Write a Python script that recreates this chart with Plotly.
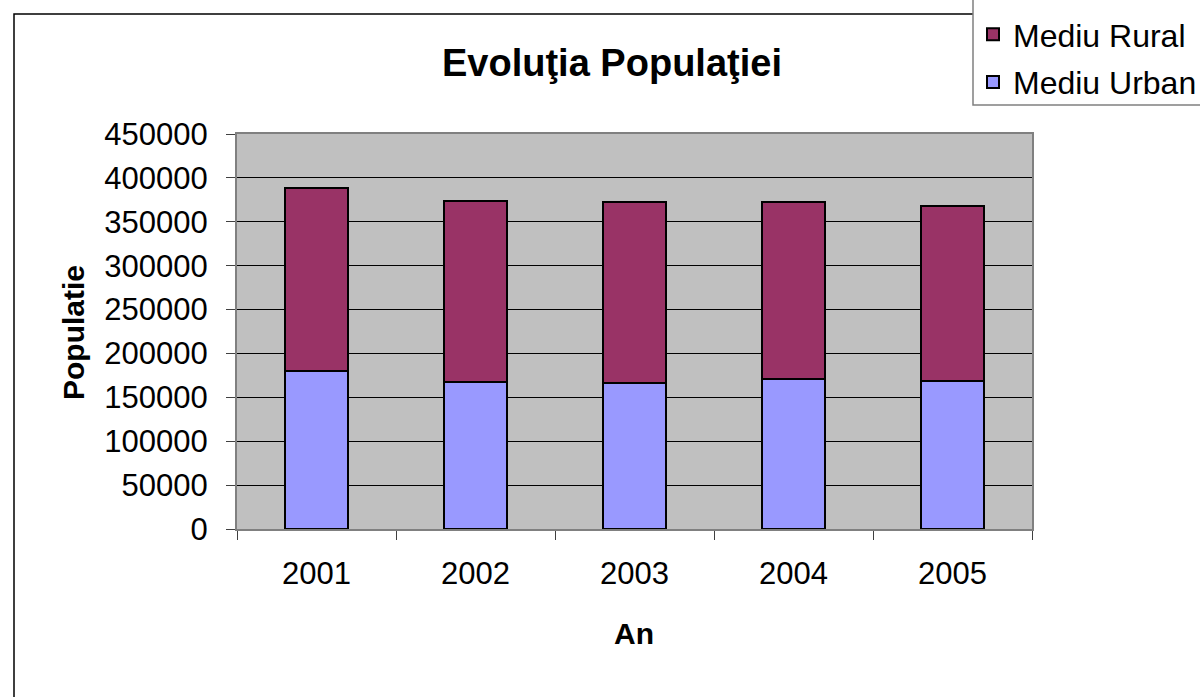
import plotly.graph_objects as go

# Population by year and environment
years = ["2001", "2002", "2003", "2004", "2005"]
urban = [180000, 167000, 166000, 171000, 169000]
rural = [209000, 207000, 207000, 201000, 199000]

FONT = "Liberation Sans, Arial, sans-serif"
W, H = 1200, 697
L, R, T, B = 237, 168, 134, 168
pw, ph = W - L - R, H - T - B


def px_x(px):
    return (px - L) / pw


def px_y(py):
    return (H - B - py) / ph


fig = go.Figure()
fig.add_trace(go.Bar(
    x=years, y=urban, name="Mediu Urban", legendrank=2, legendgroup="u",
    marker=dict(color="#9999FF", line=dict(color="black", width=2)),
))
fig.add_trace(go.Bar(
    x=years, y=rural, name="Mediu Rural", legendrank=1, legendgroup="r",
    marker=dict(color="#993366", line=dict(color="black", width=2)),
))

fig.update_layout(
    width=W, height=H,
    margin=dict(l=L, r=R, t=T, b=B, autoexpand=False),
    barmode="stack",
    bargap=0.6,
    paper_bgcolor="white",
    plot_bgcolor="#C0C0C0",
    font=dict(family=FONT, color="black", size=31),
    legend=dict(
        x=px_x(973), y=px_y(7), xanchor="left", yanchor="top",
        traceorder="grouped", tracegroupgap=3,
        bgcolor="rgba(0,0,0,0)", borderwidth=0,
        font=dict(size=32, family=FONT),
        itemwidth=30,
    ),
    showlegend=True,
)

fig.update_xaxes(
    type="category",
    showgrid=False,
    showline=True, linecolor="#808080", linewidth=2, mirror=True,
    ticks="outside", tickson="boundaries", ticklen=9, tickcolor="#404040",
    tickfont=dict(size=31),
    ticklabelstandoff=16,
)
fig.update_yaxes(
    range=[0, 450000],
    dtick=50000,
    showgrid=True, gridcolor="black", gridwidth=1,
    zeroline=False,
    showline=True, linecolor="#808080", linewidth=2, mirror=True,
    ticks="outside", ticklen=9, tickcolor="#404040",
    tickfont=dict(size=31),
    tickformat="d",
    ticklabelstandoff=12,
)

# Titles
fig.add_annotation(text="<b>Evoluţia Populaţiei</b>", xref="paper", yref="paper",
                   x=px_x(612), y=px_y(63), showarrow=False,
                   font=dict(size=38, family=FONT), xanchor="center", yanchor="middle")
fig.add_annotation(text="<b>Populatie</b>", xref="paper", yref="paper",
                   x=px_x(73), y=px_y(333), showarrow=False, textangle=-90,
                   font=dict(size=30, family=FONT), xanchor="center", yanchor="middle")
fig.add_annotation(text="<b>An</b>", xref="paper", yref="paper",
                   x=px_x(634), y=px_y(633), showarrow=False,
                   font=dict(size=30, family=FONT), xanchor="center", yanchor="middle")

# Outer chart frame
fig.add_shape(type="rect", xref="paper", yref="paper",
              x0=px_x(14), x1=px_x(1215), y0=px_y(715), y1=px_y(14),
              line=dict(color="black", width=1.5), layer="below")

# Legend box, running off the top-right corner of the page
fig.add_shape(type="rect", xref="paper", yref="paper",
              x0=px_x(973), x1=px_x(1215), y0=px_y(105), y1=px_y(-10),
              line=dict(color="#808080", width=1.5), fillcolor="white", layer="below")

fig.write_html("out.html")
